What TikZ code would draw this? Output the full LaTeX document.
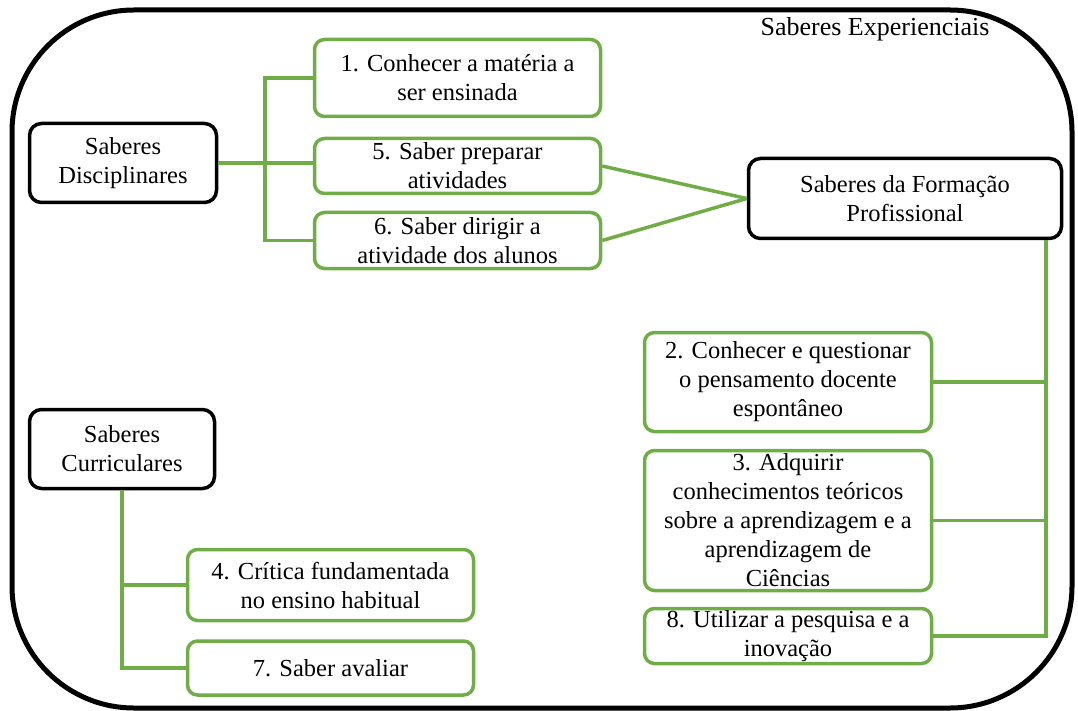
\documentclass[tikz,border=0pt]{standalone}
\usepackage{fontspec}
\setmainfont{Liberation Serif}
\definecolor{grn}{HTML}{70AD47}
\tikzset{
  gbox/.style={draw=grn, line width=3.5pt, rounded corners=10pt, fill=white, align=center, inner sep=0pt},
  kbox/.style={draw=black, line width=3.5pt, rounded corners=12pt, fill=white, align=center, inner sep=0pt},
  gline/.style={draw=grn, line width=3.5pt},
  frame/.style={draw=black, line width=5pt, rounded corners=122pt},
  title/.style={font=\fontsize{26}{29}\selectfont},
}
\begin{document}
\begin{tikzpicture}[x=1pt,y=-1pt,font=\fontsize{24.5}{29}\selectfont]
\useasboundingbox (0,0) rectangle (1078,711);
\draw[frame] (12,10) rectangle (1072,708);
\node[title] (exp) at (875,29) {Saberes Experienciais};

\node[kbox, minimum width=187pt, minimum height=79pt] (disc) at (123,163) {Saberes\\Disciplinares};
\node[gbox, minimum width=286pt, minimum height=77pt] (b1) at (457.5,78) {1. Conhecer a matéria a\\ser ensinada};
\node[gbox, minimum width=286pt, minimum height=55pt] (b5) at (457.5,166) {5. Saber preparar\\atividades};
\node[gbox, minimum width=286pt, minimum height=56pt] (b6) at (457.5,240.5) {6. Saber dirigir a\\atividade dos alunos};
\node[kbox, minimum width=313pt, minimum height=80pt] (form) at (905,198.5) {Saberes da Formação\\Profissional};
\node[gbox, minimum width=287pt, minimum height=99pt] (b2) at (788,382) {2. Conhecer e questionar\\o pensamento docente\\espontâneo};
\node[gbox, minimum width=287pt, minimum height=140pt] (b3) at (788,520.5) {3. Adquirir\\conhecimentos teóricos\\sobre a aprendizagem e a\\aprendizagem de\\Ciências};
\node[gbox, minimum width=287pt, minimum height=55pt] (b8) at (788,636) {8. Utilizar a pesquisa e a\\inovação};
\node[kbox, minimum width=185pt, minimum height=79pt] (curr) at (122,449) {Saberes\\Curriculares};
\node[gbox, minimum width=286pt, minimum height=71pt] (b4) at (330.5,585) {4. Crítica fundamentada\\no ensino habitual};
\node[gbox, minimum width=286pt, minimum height=54pt] (b7) at (330.5,668) {7. Saber avaliar};

\coordinate (dtrunk) at (265,163);
\coordinate (rtrunk) at (1046,240);

\draw[gline] (disc.east) -- (disc.east -| b5.west);
\draw[gline] (b1.west) -| (dtrunk) |- (b6.west);
\draw[gline] (b5.east) -- (form.west);
\draw[gline] (b6.east) -- (form.west);
\draw[gline] (form.south -| rtrunk) |- (b8.east);
\draw[gline] (b2.east) -- (b2.east -| rtrunk);
\draw[gline] (b3.east) -- (b3.east -| rtrunk);
\draw[gline] (curr.south) |- (b7.west);
\draw[gline] (curr.south |- b4.west) -- (b4.west);
\end{tikzpicture}
\end{document}
